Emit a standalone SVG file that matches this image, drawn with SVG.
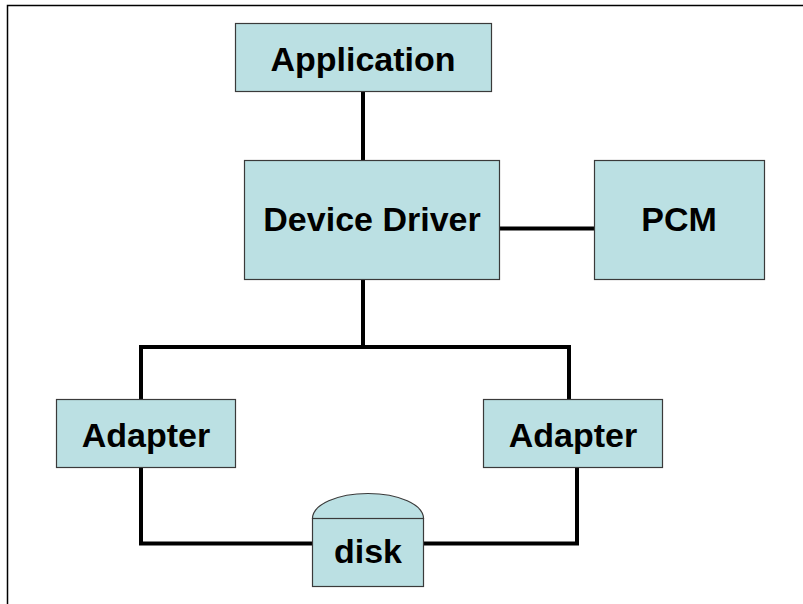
<svg xmlns="http://www.w3.org/2000/svg" width="803" height="604" viewBox="0 0 803 604">
  <style>
    .box { fill: #BBE0E3; stroke: #3a3a3a; stroke-width: 1.2; }
    .label { font-family: "Liberation Sans", Arial, sans-serif; font-weight: bold; font-size: 34px; fill: #000; text-anchor: middle; }
    .wire { fill: none; stroke: #000; stroke-width: 4; stroke-linecap: butt; stroke-linejoin: miter; }
    .frame { fill: none; stroke: #000; stroke-width: 1.5; }
  </style>

  <rect width="803" height="604" fill="#fff"/>
  <!-- page frame -->
  <path class="frame" d="M7.5,604 V5.5 H803"/>

  <!-- connectors -->
  <g id="connectors">
    <path class="wire" d="M363,91 V160"/>
    <path class="wire" d="M499,228.5 H594"/>
    <path class="wire" d="M363,279 V347"/>
    <path class="wire" d="M141,399 V347 H569 V399"/>
    <path class="wire" d="M141,467 V543.5 H312.5"/>
    <path class="wire" d="M577,467 V543.5 H423.5"/>
  </g>

  <g id="application">
    <rect class="box" x="235.5" y="23.5" width="256" height="68"/>
    <text class="label" x="363" y="71">Application</text>
  </g>

  <g id="device-driver">
    <rect class="box" x="244.5" y="160.5" width="255" height="119"/>
    <text class="label" x="372" y="231">Device Driver</text>
  </g>

  <g id="pcm">
    <rect class="box" x="594.5" y="160.5" width="170" height="119"/>
    <text class="label" x="679" y="231">PCM</text>
  </g>

  <g id="adapter-left">
    <rect class="box" x="56.5" y="399.5" width="179" height="68"/>
    <text class="label" x="146" y="447">Adapter</text>
  </g>

  <g id="adapter-right">
    <rect class="box" x="483.5" y="399.5" width="179" height="68"/>
    <text class="label" x="573" y="447">Adapter</text>
  </g>

  <g id="disk">
    <path class="box" d="M312.5,518.5 A55.5,25 0 0 1 423.5,518.5 Z"/>
    <rect class="box" x="312.5" y="518.5" width="111" height="68"/>
    <text class="label" x="368" y="563">disk</text>
  </g>
</svg>
